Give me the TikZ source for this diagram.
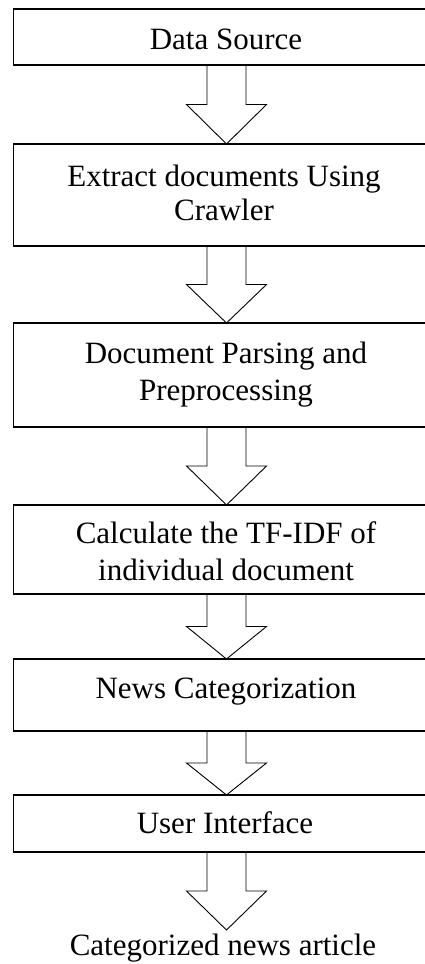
\documentclass[tikz,border=0pt]{standalone}
\usepackage{fontspec}
\setmainfont{Liberation Serif}
\usetikzlibrary{calc}
\tikzset{
  stepbox/.style={draw=black, line width=1.5pt, inner sep=0pt, outer sep=0pt, minimum width=426pt},
  linetext/.style={anchor=base, inner sep=0pt, outer sep=0pt, font=\fontsize{31}{34}\selectfont},
  fatarr/.style={draw=black, line width=0.9pt, line join=miter},
}
\newcommand{\fatarrow}[2]{%
  \draw[fatarr] ($(#1.south)+(-19.5,0)$) |- ($($(#1.south)!0.5!(#2.north)$)+(-40,0)$)
    -- (#2.north) -- ($($(#1.south)!0.5!(#2.north)$)+(40,0)$) -| ($(#1.south)+(19.5,0)$);}
\begin{document}
\begin{tikzpicture}[x=1pt,y=1pt]
\useasboundingbox (0,0) rectangle (425,-964);
\clip (0,0) rectangle (425,-964);
% boxes
\node[stepbox, minimum height=56pt]  (b1) at (226.5,-37)    {};
\node[stepbox, minimum height=102pt] (b2) at (226.5,-195)   {};
\node[stepbox, minimum height=104pt] (b3) at (226.5,-375)   {};
\node[stepbox, minimum height=89pt]  (b4) at (226.5,-549.5) {};
\node[stepbox, minimum height=72pt]  (b5) at (226.5,-695)   {};
\node[stepbox, minimum height=57pt]  (b6) at (226.5,-823.5) {};
\coordinate (end) at (226.5,-930);
% texts
\node[linetext] (t1)  at (226,-49)    {Data Source};
\node[linetext] (t2a) at (224,-186.7) {Extract documents Using};
\node[linetext] (t2b) at (224,-220)   {Crawler};
\node[linetext] (t3a) at (226,-363.3) {Document Parsing and};
\node[linetext] (t3b) at (226,-400)   {Preprocessing};
\node[linetext] (t4a) at (226,-543.3) {Calculate the TF-IDF of};
\node[linetext] (t4b) at (226,-580)   {individual document};
\node[linetext] (t5)  at (226,-698.3) {News Categorization};
\node[linetext] (t6)  at (225,-833.3) {User Interface};
\node[linetext] (t7)  at (223,-955)   {Categorized news article};
% arrows
\fatarrow{b1}{b2}
\fatarrow{b2}{b3}
\fatarrow{b3}{b4}
\fatarrow{b4}{b5}
\fatarrow{b5}{b6}
\fatarrow{b6}{end}
\end{tikzpicture}
\end{document}
